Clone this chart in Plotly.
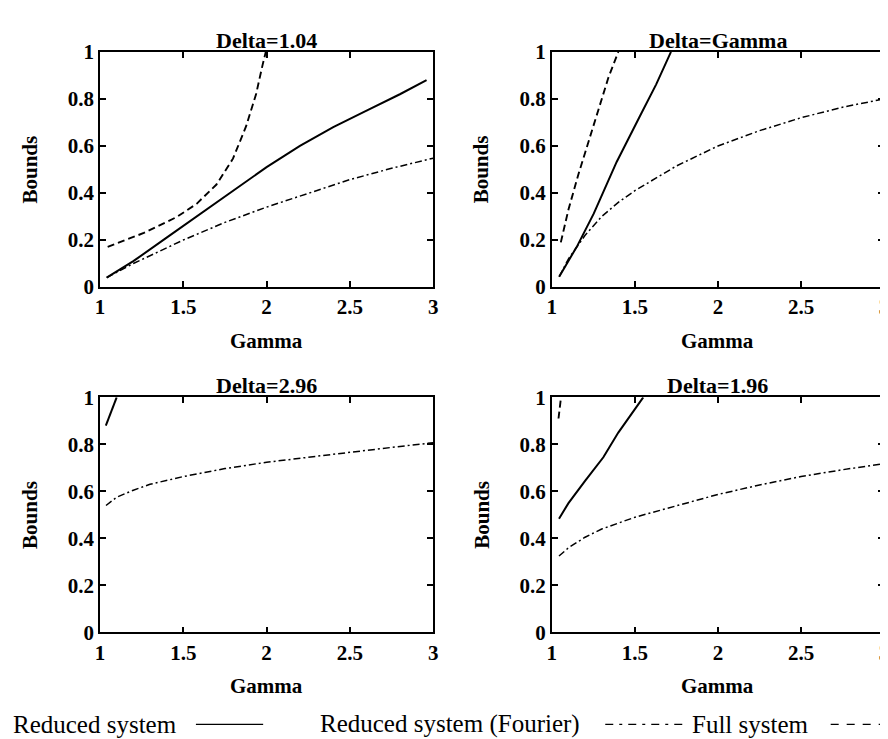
import plotly.graph_objects as go

W, H = 888, 739

# ---------------- data ----------------
titles = ["Delta=1.04", "Delta=Gamma", "Delta=2.96", "Delta=1.96"]
x_ticks = [1, 1.5, 2, 2.5, 3]
x_tick_labels = ["1", "1.5", "2", "2.5", "3"]
y_ticks = [0, 0.2, 0.4, 0.6, 0.8, 1]
y_tick_labels = ["0", "0.2", "0.4", "0.6", "0.8", "1"]

# Delta = 1.04
red_x_1 = [1.04, 1.2, 1.4, 1.6, 1.8, 2.0, 2.2, 2.4, 2.6, 2.8, 2.96]
red_y_1 = [0.04, 0.11, 0.21, 0.31, 0.41, 0.51, 0.60, 0.68, 0.75, 0.82, 0.88]
four_x_1 = [1.04, 1.2, 1.5, 1.75, 2.0, 2.25, 2.5, 2.75, 3.0]
four_y_1 = [0.04, 0.10, 0.20, 0.275, 0.34, 0.40, 0.457, 0.505, 0.548]
full_x_1 = [1.046, 1.263, 1.461, 1.58, 1.699, 1.798, 1.877, 1.937, 1.976, 1.995]
full_y_1 = [0.171, 0.23, 0.298, 0.354, 0.436, 0.546, 0.684, 0.821, 0.945, 1.0]

# Delta = Gamma
red_x_2 = [1.044, 1.153, 1.252, 1.39, 1.529, 1.628, 1.717]
red_y_2 = [0.044, 0.175, 0.312, 0.532, 0.725, 0.862, 1.0]
four_x_2 = [1.044, 1.1, 1.2, 1.3, 1.4, 1.5, 1.75, 2.0, 2.25, 2.5, 2.75, 3.0]
four_y_2 = [0.044, 0.12, 0.22, 0.30, 0.36, 0.41, 0.515, 0.60, 0.665, 0.72, 0.765, 0.80]
full_x_2 = [1.054, 1.10, 1.16, 1.22, 1.28, 1.34, 1.40]
full_y_2 = [0.19, 0.33, 0.48, 0.62, 0.76, 0.89, 1.0]

# Delta = 2.96
red_x_3 = [1.035, 1.10]
red_y_3 = [0.88, 1.0]
four_x_3 = [1.036, 1.1, 1.2, 1.3, 1.5, 1.75, 2.0, 2.25, 2.5, 2.75, 3.0]
four_y_3 = [0.54, 0.575, 0.605, 0.63, 0.663, 0.697, 0.724, 0.746, 0.766, 0.787, 0.807]
full_x_3 = []
full_y_3 = []

# Delta = 1.96
red_x_4 = [1.043, 1.1, 1.2, 1.31, 1.4, 1.5, 1.55]
red_y_4 = [0.484, 0.55, 0.645, 0.745, 0.85, 0.95, 1.0]
four_x_4 = [1.043, 1.1, 1.2, 1.3, 1.5, 1.75, 2.0, 2.25, 2.5, 2.75, 3.0]
four_y_4 = [0.325, 0.36, 0.405, 0.44, 0.49, 0.54, 0.587, 0.627, 0.663, 0.692, 0.718]
full_x_4 = [1.04, 1.055]
full_y_4 = [0.91, 1.0]

series_names = ["Reduced system", "Reduced system (Fourier)", "Full system"]

panels = [
    (red_x_1, red_y_1, four_x_1, four_y_1, full_x_1, full_y_1),
    (red_x_2, red_y_2, four_x_2, four_y_2, full_x_2, full_y_2),
    (red_x_3, red_y_3, four_x_3, four_y_3, full_x_3, full_y_3),
    (red_x_4, red_y_4, four_x_4, four_y_4, full_x_4, full_y_4),
]

# ---------------- layout helpers ----------------
def PX(p):
    return p / W

def PY(p):
    return 1 - p / H

x_doms = [[PX(88), PX(425)], [PX(545), PX(881)]]
y_doms = [[PY(276), PY(33)], [PY(633), PY(390)]]

FONT = "Liberation Serif"
BOLD = dict(family=FONT, size=21, color="black", weight="bold")
line_solid = dict(color="black", width=2)
line_four = dict(color="black", width=1.5, dash="7px,3px,2px,3px")
line_full = dict(color="black", width=1.9, dash="7px,4px")

fig = go.Figure()
annotations = []
shapes = []

for i, (rx, ry, fx, fy, ux, uy) in enumerate(panels):
    col = i % 2
    row = i // 2
    n = "" if i == 0 else str(i + 1)
    xa, ya = "x" + n, "y" + n
    fig.add_trace(go.Scatter(x=fx, y=fy, mode="lines", line=line_four,
                             xaxis=xa, yaxis=ya, showlegend=False, name=series_names[1]))
    fig.add_trace(go.Scatter(x=ux, y=uy, mode="lines", line=line_full,
                             xaxis=xa, yaxis=ya, showlegend=False, name=series_names[2]))
    fig.add_trace(go.Scatter(x=rx, y=ry, mode="lines", line=line_solid,
                             xaxis=xa, yaxis=ya, showlegend=False, name=series_names[0]))
    ax_common = dict(showline=True, linecolor="black", linewidth=1.8, mirror="ticks",
                     ticks="inside", ticklen=6, tickwidth=1.5, tickcolor="black",
                     showgrid=False, zeroline=False, tickfont=BOLD)
    fig.layout["xaxis" + n] = dict(domain=x_doms[col], range=[1, 3], anchor=ya,
                                   tickvals=x_ticks, ticktext=x_tick_labels, **ax_common)
    fig.layout["yaxis" + n] = dict(domain=y_doms[row], range=[0, 1], anchor=xa,
                                   tickvals=y_ticks, ticktext=y_tick_labels, **ax_common)
    xc = (x_doms[col][0] + x_doms[col][1]) / 2
    annotations.append(dict(text=titles[i], x=xc, y=y_doms[row][1], xref="paper", yref="paper",
                            xanchor="center", yanchor="bottom", showarrow=False, yshift=-3,
                            font=dict(BOLD, size=22)))
    annotations.append(dict(text="Gamma", x=xc, y=y_doms[row][0], xref="paper", yref="paper",
                            xanchor="center", yanchor="middle", showarrow=False, yshift=-54,
                            font=BOLD))
    annotations.append(dict(text="Bounds", x=x_doms[col][0], y=(y_doms[row][0] + y_doms[row][1]) / 2,
                            xref="paper", yref="paper", xanchor="center", yanchor="middle",
                            showarrow=False, xshift=-70, textangle=-90, font=BOLD))

# legend row (label followed by line sample)
leg_font = dict(family=FONT, size=25, color="black")
leg_y = PY(728)
annotations.append(dict(text=series_names[0], x=PX(-2), y=leg_y, xref="paper", yref="paper",
                        xanchor="left", yanchor="middle", showarrow=False, font=leg_font))
annotations.append(dict(text=series_names[1], x=PX(308), y=leg_y, xref="paper", yref="paper",
                        xanchor="left", yanchor="middle", showarrow=False, font=leg_font))
annotations.append(dict(text=series_names[2], x=PX(685), y=leg_y, xref="paper", yref="paper",
                        xanchor="left", yanchor="middle", showarrow=False, font=leg_font))
shapes.append(dict(type="line", xref="paper", yref="paper", x0=PX(185), x1=PX(253),
                   y0=PY(728), y1=PY(728), line=dict(color="black", width=1.2)))
shapes.append(dict(type="line", xref="paper", yref="paper", x0=PX(599), x1=PX(677),
                   y0=PY(728), y1=PY(728), line=dict(color="black", width=1.3, dash="8px,6px,3px,6px")))
shapes.append(dict(type="line", xref="paper", yref="paper", x0=PX(827), x1=PX(877),
                   y0=PY(728), y1=PY(728), line=dict(color="black", width=1.2, dash="8px,8px")))

fig.update_layout(width=W, height=H, margin=dict(l=0, r=0, t=0, b=0),
                  paper_bgcolor="white", plot_bgcolor="white",
                  annotations=annotations, shapes=shapes, showlegend=False)

fig.write_html("out.html")
